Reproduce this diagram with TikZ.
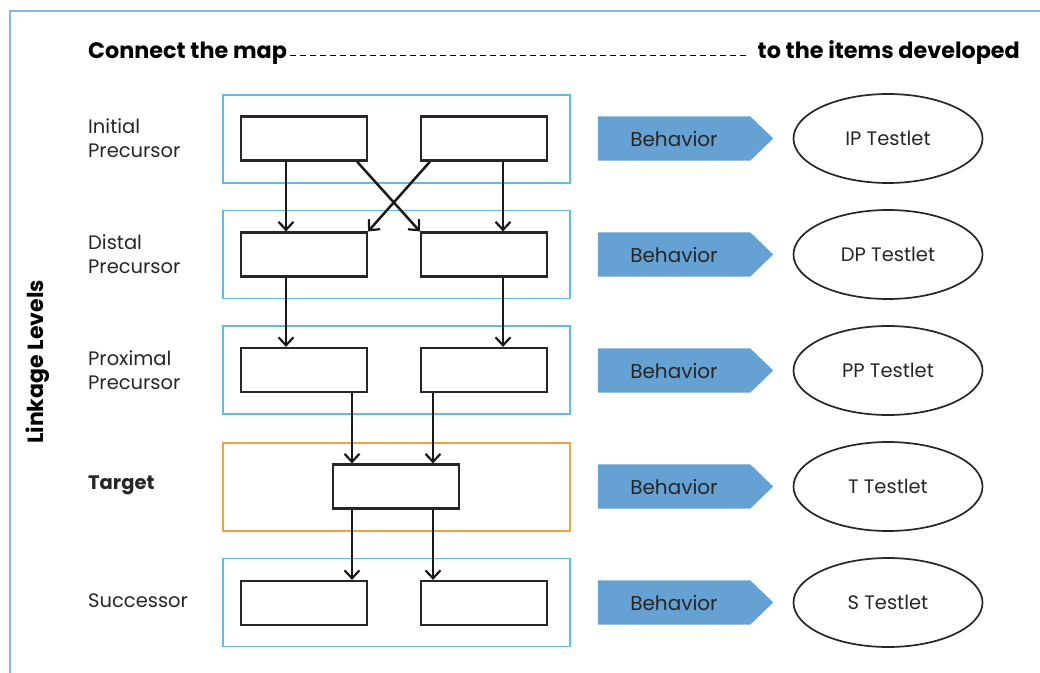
\documentclass[tikz,border=0pt]{standalone}
\usepackage{fontspec}
\setmainfont{Poppins}
\usetikzlibrary{arrows.meta,shapes.geometric,backgrounds}
\definecolor{lvlcyan}{HTML}{5BBFE0}
\definecolor{tgtorange}{HTML}{F0A33C}
\definecolor{framecol}{HTML}{8DB3E6}
\definecolor{behavblue}{HTML}{65A1D3}
\begin{document}
\begin{tikzpicture}[x=1pt,y=-1pt,
  lvlbox/.style={draw=lvlcyan,line width=1.3pt,minimum width=347pt,minimum height=88pt,inner sep=0pt},
  tgtbox/.style={draw=tgtorange,line width=2pt,minimum width=347pt,minimum height=88pt,inner sep=0pt},
  inbox/.style={draw=black!85,line width=2.2pt,fill=white,minimum width=126pt,minimum height=44pt,inner sep=0pt},
  behav/.style={minimum width=152pt,minimum height=44pt,inner sep=0pt,font=\fontsize{20}{22}\selectfont,text=black!85},
  testlet/.style={draw=black!85,line width=1.7pt,ellipse,minimum width=189pt,minimum height=89pt,inner sep=0pt,font=\fontsize{19.5}{22}\selectfont,text=black!85},
  lvllabel/.style={anchor=west,align=left,font=\fontsize{19.5}{24}\selectfont,text=black!85,inner sep=0pt},
  arr/.style={line width=2.5pt,black!90,-{Straight Barb[length=8pt,width=15pt,line width=2.2pt]}},
  title/.style={font=\bfseries\fontsize{22.3}{24}\selectfont,inner sep=0pt}
]
\useasboundingbox (0,0) rectangle (1040,672);
\draw[framecol,line width=1.2pt] (1045,11) -- (10,11) -- (10,680);

% title
\node[title,anchor=west] (t1) at (88,53) {Connect the map};
\node[title,anchor=east] (t2) at (1020,53) {to the items developed};
\draw[line width=1pt,dash pattern=on 6pt off 4pt] ([xshift=3pt]t1.east |- 0,55) coordinate (d1) -- ([xshift=-10pt]t2.west |- 0,55) coordinate (d2);

% vertical label
\node[font=\bfseries\fontsize{22}{24}\selectfont,rotate=90,inner sep=0pt] (ll) at (38,362) {Linkage Levels};

% level labels
\node[lvllabel] (lab1) at (88,138) {Initial\\Precursor};
\node[lvllabel] (lab2) at (88,254) {Distal\\Precursor};
\node[lvllabel] (lab3) at (88,370) {Proximal\\Precursor};
\node[lvllabel,font=\bfseries\fontsize{19.5}{24}\selectfont] (lab4) at (88,485) {Target};
\node[lvllabel] (lab5) at (88,601) {Successor};

% level boxes
\node[lvlbox] (g1) at (396.5,139) {};
\node[lvlbox] (g2) at (396.5,254.5) {};
\node[lvlbox] (g3) at (396.5,370) {};
\node[tgtbox] (g4) at (396.5,486.5) {};
\node[lvlbox] (g5) at (396.5,602.5) {};

% inner boxes
\node[inbox] (L1) at (304,138.5) {};
\node[inbox] (R1) at (484,138.5) {};
\node[inbox] (L2) at (304,254.5) {};
\node[inbox] (R2) at (484,254.5) {};
\node[inbox] (L3) at (304,370) {};
\node[inbox] (R3) at (484,370) {};
\node[inbox] (T) at (396,486.5) {};
\node[inbox] (L5) at (304,603) {};
\node[inbox] (R5) at (484,603) {};

% arrows
\draw[arr] ([xshift=-18pt]L1.south) -- ([xshift=-18pt]L2.north);
\draw[arr] ([xshift=19pt]R1.south) -- ([xshift=19pt]R2.north);
\draw[arr] ([xshift=53pt]L1.south) -- (R2.north west);
\draw[arr] ([xshift=-54pt]R1.south) -- (L2.north east);
\draw[arr] ([xshift=-18pt]L2.south) -- ([xshift=-18pt]L3.north);
\draw[arr] ([xshift=19pt]R2.south) -- ([xshift=19pt]R3.north);
\draw[arr] ([xshift=48pt]L3.south) -- ([xshift=-44pt]T.north);
\draw[arr] ([xshift=-51pt]R3.south) -- ([xshift=37pt]T.north);
\draw[arr] ([xshift=-44pt]T.south) -- ([xshift=48pt]L5.north);
\draw[arr] ([xshift=37pt]T.south) -- ([xshift=-51pt]R5.north);

% behavior arrows and testlets
\foreach \i/\y/\lab in {1/138.5/IP Testlet,2/254.5/DP Testlet,3/370.5/PP Testlet,4/486.5/T Testlet,5/602.5/S Testlet}{
  \node[behav] (b\i) at (674,\y) {Behavior};
  \begin{scope}[on background layer]
    \fill[behavblue] (b\i.north west) -- (b\i.north east) -- ([xshift=23pt]b\i.east) -- (b\i.south east) -- (b\i.south west) -- cycle;
  \end{scope}
  \node[testlet] (e\i) at (888,\y) {\lab};
}
\end{tikzpicture}
\end{document}
